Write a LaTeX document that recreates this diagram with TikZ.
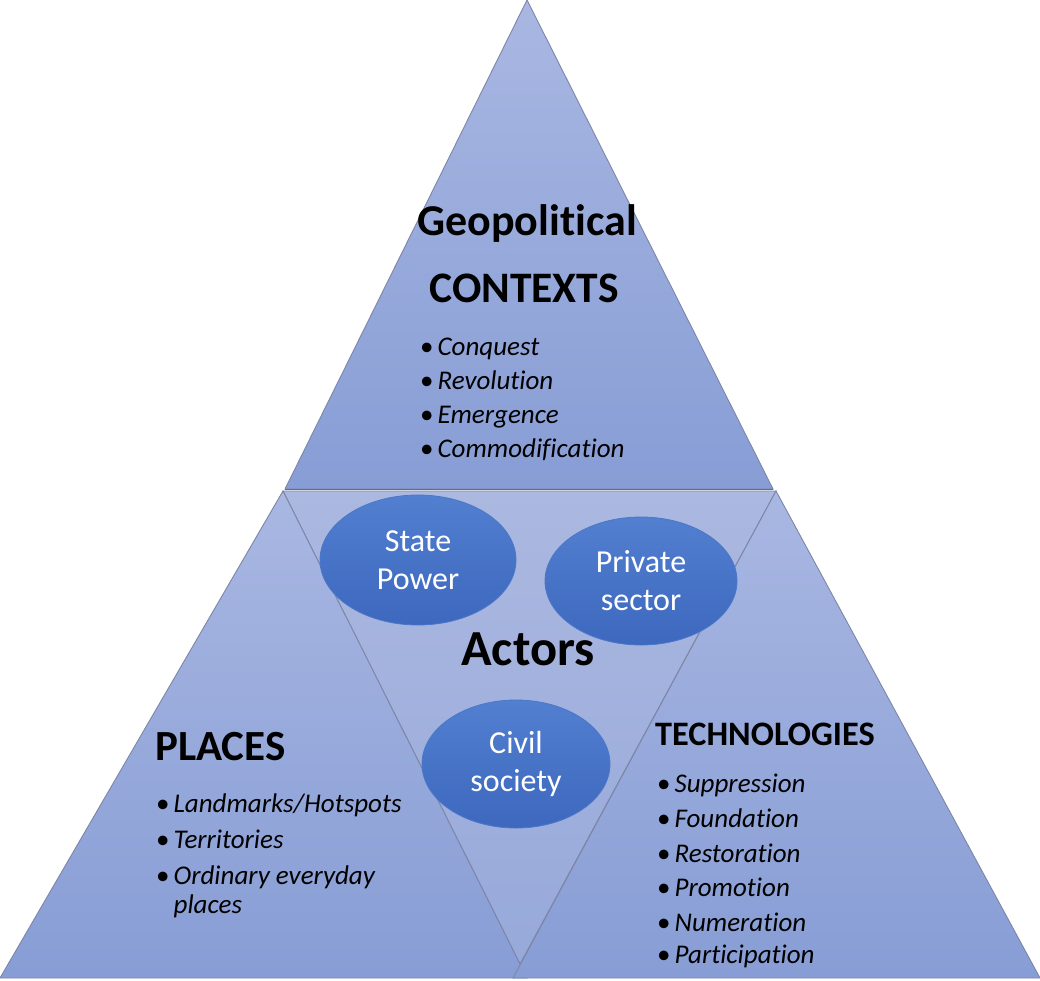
\documentclass[tikz,border=0pt]{standalone}
\usepackage{fontspec}
\setmainfont{Carlito}[Ligatures=NoCommon]
\usetikzlibrary{shapes.geometric}
\definecolor{edgegray}{HTML}{7C86A6}
\definecolor{ellborder}{HTML}{4A78C8}
\definecolor{ellTop}{HTML}{527FD0}
\definecolor{ellBot}{HTML}{3D68BE}
\definecolor{segTop}{HTML}{A9B7E2}
\definecolor{segBot}{HTML}{879DD5}
\definecolor{innTop}{HTML}{ABB8E0}
\definecolor{innBot}{HTML}{97A9DA}
\newcommand\blist[1]{\begin{tabular}[t]{@{}l@{\hspace{4pt}}l@{}}#1\end{tabular}}
\tikzset{
  seg/.style={draw=edgegray, line width=0.9pt, line join=miter},
  actor/.style={ellipse, draw=ellborder, line width=0.8pt, top color=ellTop, bottom color=ellBot,
    text=white, align=center, inner sep=0pt, font=\fontsize{32}{38}\selectfont},
  heading/.style={font=\bfseries\fontsize{44}{48}\selectfont, inner sep=0pt, anchor=base},
  listtxt/.style={font=\fontsize{27}{34}\selectfont, inner sep=0pt, anchor=base west}
}
\begin{document}
\begin{tikzpicture}[x=1pt,y=-1pt]
\useasboundingbox (0,0) rectangle (1040,980);
% corner points
\coordinate (apex) at (527,0);
\coordinate (tl) at (285,489);
\coordinate (tr) at (773,489);
\coordinate (bl) at (0,978);
\coordinate (br) at (1040,978);
\coordinate (vl) at (283,491);
\coordinate (vr) at (776,491);
\coordinate (vb) at (520,964);
\coordinate (bml) at (513,978);
\coordinate (bmr) at (527,978);
% segments
\shade[seg, top color=segTop, bottom color=segBot] (apex) -- (tr) -- (tl) -- cycle;
\shade[seg, top color=innTop, bottom color=innBot] (vl) -- (vr) -- (vb) -- cycle;
\shade[seg, top color=segTop, bottom color=segBot] (vl) -- (bmr) -- (bl) -- cycle;
\shade[seg, top color=segTop, bottom color=segBot] (vr) -- (br) -- (bml) -- cycle;
\draw[seg, draw=edgegray!80!black] (tl) -- (tr);
% headings
\node[heading] (geo) at (527,235) {Geopolitical};
\node[heading, font=\bfseries\fontsize{43.5}{48}\selectfont] (ctx) at (524,302) {CONTEXTS};
\node[heading, font=\bfseries\fontsize{50.5}{54}\selectfont] (act) at (528,665) {Actors};
\node[heading, anchor=base west, font=\bfseries\fontsize{43}{48}\selectfont] (plc) at (155,760) {PLACES};
\node[heading, anchor=base west, font=\bfseries\fontsize{34.3}{40}\selectfont] (tec) at (655,745) {TECHNOLOGIES};
% lists
\node[listtxt] (ctxlist) at (420,355) {\blist{%
  \textbullet & \textit{Conquest}\\
  \textbullet & \textit{Revolution}\\
  \textbullet & \textit{Emergence}\\
  \textbullet & \textit{Commodification}}};
\node[listtxt] (plclist) at (156,812) {\blist{%
  \textbullet & \textit{Landmarks/Hotspots}\\[2pt]
  \textbullet & \textit{Territories}\\[2pt]
  \textbullet & \textit{Ordinary everyday}\\[-5pt]
   & \textit{places}}};
\node[listtxt] (teclist) at (657,792) {\blist{%
  \textbullet & \textit{Suppression}\\[1pt]
  \textbullet & \textit{Foundation}\\[1pt]
  \textbullet & \textit{Restoration}\\
  \textbullet & \textit{Promotion}\\[1pt]
  \textbullet & \textit{Numeration}\\[-2pt]
  \textbullet & \textit{Participation}}};
% actors
\node[actor, minimum width=196pt, minimum height=130pt] (state) at (418,560) {State\\Power};
\node[actor, minimum width=192pt, minimum height=128pt] (priv) at (641,581) {Private\\sector};
\node[actor, minimum width=188pt, minimum height=128pt] (civil) at (516,764) {Civil\\society};
\end{tikzpicture}
\end{document}
